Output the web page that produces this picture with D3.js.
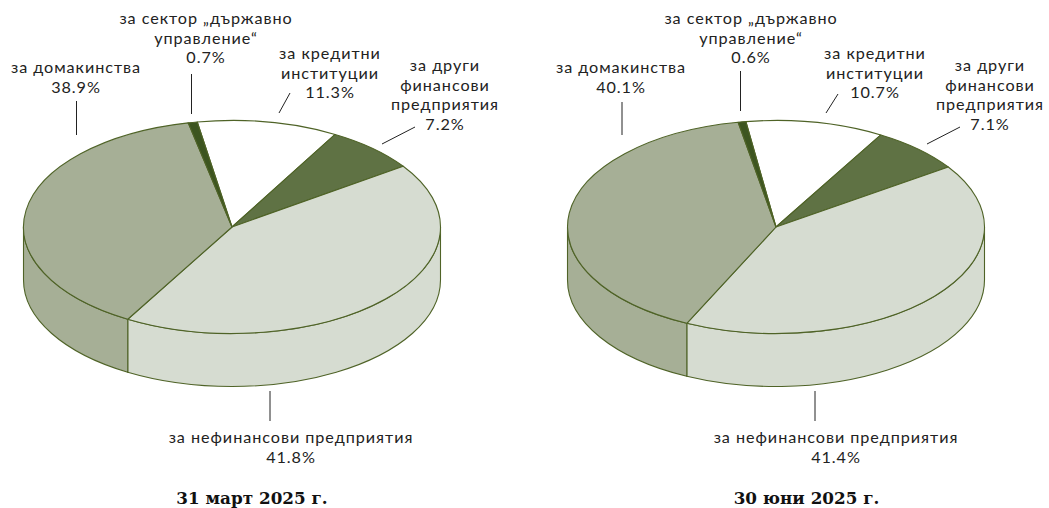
<!DOCTYPE html>
<html lang="bg"><head><meta charset="utf-8">
<script src="https://cdn.jsdelivr.net/npm/d3@7/dist/d3.min.js"></script>
<style>
html,body{margin:0;padding:0;background:#fff}
svg{display:block}
.lab{font-family:Lato,"Noto Sans",sans-serif;font-size:16.2px;letter-spacing:.95px;fill:#222;text-anchor:middle}
.ttl{font-family:"DejaVu Serif",serif;font-weight:bold;font-size:16.8px;fill:#111;text-anchor:middle}
</style></head><body>
<svg id="c" width="1049" height="508"></svg>
<script>
// Slice order, clockwise from the top of the pie
const categories = ["credit","otherFin","nonFin","households","government"];
const colors = ["#ffffff","#5f7244","#d6dcd1","#a6af96","#3d5520"];
// Shares as drawn in the picture
const sharesMarch = [10.9,7.1,43.0,38.3,0.7];
const sharesJune  = [10.7,7.1,41.6,40.1,0.6];
// Printed labels
const labelsCredit = ["за кредитни","институции"];
const labelsOther  = ["за други","финансови","предприятия"];
const labelsNon    = ["за нефинансови предприятия"];
const labelsHouse  = ["за домакинства"];
const labelsGov    = ["за сектор „държавно","управление“"];
const pctMarch = ["11.3%","7.2%","41.8%","38.9%","0.7%"];
const pctJune  = ["10.7%","7.1%","41.4%","40.1%","0.6%"];
const titleMarch = "31 март 2025 г.";
const titleJune  = "30 юни 2025 г.";

const RX=208.5, RY=106.5, DEPTH=53, STROKE="#4f6327";
const svg=d3.select("#c");

// Label anchors relative to the pie centre
const labelLayout=[
 {lines:labelsCredit,cx:98,y:59,pct:0},
 {lines:labelsOther,cx:213,y:71,pct:1},
 {lines:labelsNon,cx:59,y:443,pct:2},
 {lines:labelsHouse,cx:-156,y:73,pct:3},
 {lines:labelsGov,cx:-26,y:24,pct:4}
];
const LINE=19.5;

function drawPie(cx,shares,startDeg,pcts,title,titleX,labelDx,leaders){
  const g=svg.append("g");
  const cy=227;
  const pie=d3.pie().sort(null).value(d=>d)
    .startAngle(startDeg*Math.PI/180).endAngle((startDeg+360)*Math.PI/180);
  const arcs=pie(shares);
  const arc=d3.arc().innerRadius(0).outerRadius(RX);
  const px=a=>cx+RX*Math.sin(a), py=a=>cy-RY*Math.cos(a);
  // walls of the front half
  arcs.forEach((d,i)=>{
    const a0=Math.max(d.startAngle,Math.PI/2), a1=Math.min(d.endAngle,Math.PI*1.5);
    if(a1<=a0) return;
    const dd=`M${px(a0)},${py(a0)}A${RX},${RY} 0 ${a1-a0>Math.PI?1:0} 1 ${px(a1)},${py(a1)}`+
      `L${px(a1)},${py(a1)+DEPTH}A${RX},${RY} 0 ${a1-a0>Math.PI?1:0} 0 ${px(a0)},${py(a0)+DEPTH}Z`;
    g.append("path").attr("d",dd).attr("fill",colors[i]).attr("stroke",STROKE).attr("stroke-width",1.1);
  });
  // top faces
  g.append("g").attr("transform",`translate(${cx},${cy}) scale(1,${RY/RX})`)
   .selectAll("path").data(arcs).join("path")
   .attr("d",arc).attr("fill",(d,i)=>colors[i]).attr("stroke",STROKE)
   .attr("stroke-width",1.1).attr("vector-effect","non-scaling-stroke").attr("stroke-linejoin","round");
  // leaders
  g.selectAll("line").data(leaders).join("line")
   .attr("x1",d=>d[0]).attr("y1",d=>d[1]).attr("x2",d=>d[2]).attr("y2",d=>d[3])
   .attr("stroke","#222").attr("stroke-width",1);
  // labels
  labelLayout.forEach(l=>{
    const x=232+l.cx+labelDx;
    l.lines.concat([pcts[l.pct]]).forEach((t,i)=>{
      g.append("text").attr("class","lab").attr("x",x).attr("y",l.y+i*LINE).text(t);
    });
  });
  g.append("text").attr("class","ttl").attr("x",titleX).attr("y",504).text(title);
}
drawPie(232,sharesMarch,-9.6,pctMarch,titleMarch,252,0,
  [[76.5,101,76.5,135],[191.5,74,191.5,114],[290,93,279,113],[415,127,382,144],[270,391,270,421]]);
drawPie(776,sharesJune,-8.3,pctJune,titleJune,806.5,545,
  [[622,102,622,135],[740.5,71,740.5,111],[838,94,826,113],[960,127,927,144],[815,391,815,421]]);
</script>
</body></html>
